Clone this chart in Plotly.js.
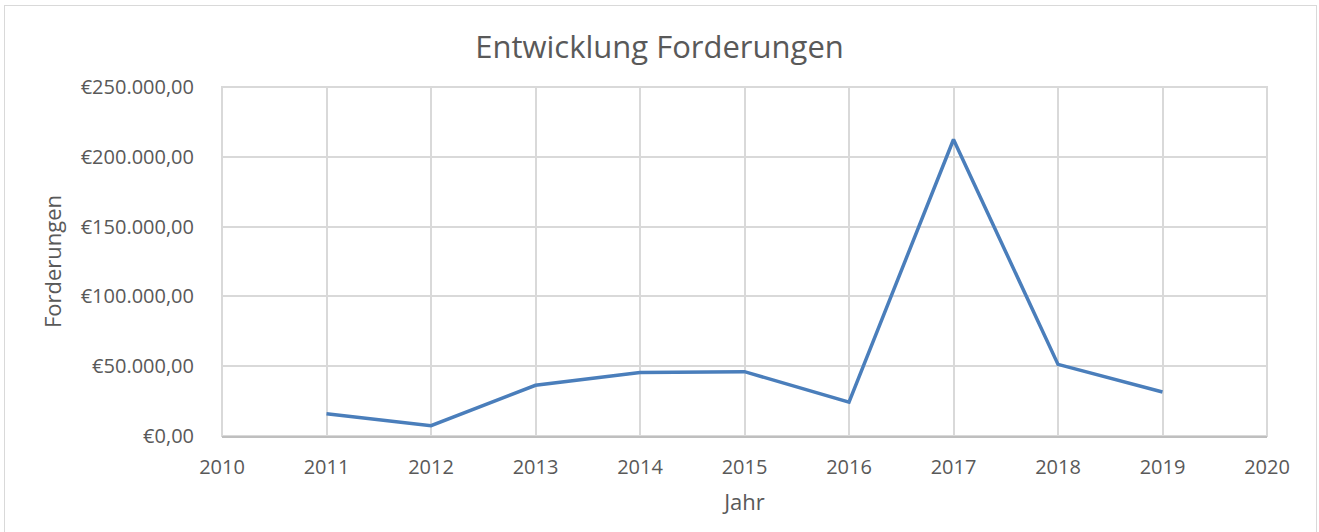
<!DOCTYPE html>
<html><head><meta charset="utf-8">
<script src="https://cdn.plot.ly/plotly-3.0.1.min.js"></script>
<style>html,body{margin:0;padding:0;background:#fff;}#wrap{position:relative;width:1319px;height:532px;}#c{width:1319px;height:532px;}#frame{position:absolute;left:4px;top:5px;width:1313px;height:528px;border:1px solid #d9d9d9;box-sizing:border-box;pointer-events:none;}</style>
</head><body><div id="wrap"><div id="c"></div><div id="frame"></div></div>
<script>
const years = [2011, 2012, 2013, 2014, 2015, 2016, 2017, 2018, 2019];
const forderungen = [16000, 7400, 36300, 45400, 46100, 24300, 212400, 51300, 31500];
const yTickVals = [0, 50000, 100000, 150000, 200000, 250000];
const yTickText = ['€0,00', '€50.000,00', '€100.000,00', '€150.000,00', '€200.000,00', '€250.000,00'];
const xTickVals = [2010, 2011, 2012, 2013, 2014, 2015, 2016, 2017, 2018, 2019, 2020];

const font = 'Open Sans, sans-serif';
Plotly.newPlot('c', [{
  x: years, y: forderungen, type: 'scatter', mode: 'lines',
  line: {color: '#4a7ebb', width: 3.5}, hoverinfo: 'x+y'
}], {
  width: 1319, height: 532,
  margin: {l: 222, r: 52, t: 87, b: 96},
  paper_bgcolor: '#fff', plot_bgcolor: '#fff',
  showlegend: false,
  title: {text: 'Entwicklung Forderungen', font: {family: font, size: 31, color: '#595959'}, x: 0.5, xanchor: 'center', y: 0.912, yanchor: 'middle'},
  xaxis: {
    range: [2010, 2020], tickvals: xTickVals, ticktext: xTickVals.map(String),
    showgrid: true, gridcolor: '#d9d9d9', gridwidth: 2,
    showline: true, linecolor: '#bfbfbf', linewidth: 2, zeroline: false,
    ticks: '', ticklen: 0, ticklabelstandoff: 12,
    tickfont: {family: font, size: 20, color: '#595959'},
    title: {text: 'Jahr', font: {family: font, size: 22, color: '#595959'}, standoff: 16}
  },
  yaxis: {
    range: [0, 250000], tickvals: yTickVals, ticktext: yTickText,
    showgrid: true, gridcolor: '#d9d9d9', gridwidth: 2, zeroline: false,
    showline: false, ticks: '', ticklen: 0, ticklabelstandoff: 27,
    tickfont: {family: font, size: 20, color: '#595959'},
    title: {text: 'Forderungen', font: {family: font, size: 22, color: '#595959'}, standoff: 12}
  },
  shapes: [{type: 'rect', xref: 'paper', yref: 'paper', x0: 0, x1: 1, y0: 0, y1: 1, line: {color: '#d9d9d9', width: 2}, layer: 'below'}]
}, {displayModeBar: false, staticPlot: true});
</script></body></html>
